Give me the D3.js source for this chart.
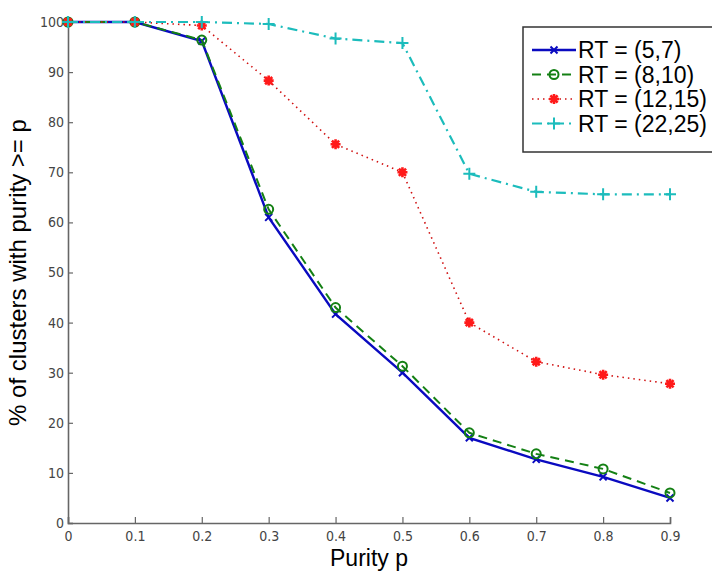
<!DOCTYPE html>
<html>
<head>
<meta charset="utf-8">
<script src="https://cdn.jsdelivr.net/npm/d3@7"></script>
<style>
  body { margin: 0; background: #fff; }
  svg { display: block; }
</style>
</head>
<body>
<div id="chart"></div>
<script>
// purity thresholds on the x axis
var purity = [0, 0.1, 0.2, 0.3, 0.4, 0.5, 0.6, 0.7, 0.8, 0.9];

// % of clusters with purity >= p, one array per RT window
var rt57   = [100, 100, 96.2, 61, 41.7, 30, 17, 12.7, 9.2, 5];
var rt810  = [100, 100, 96.4, 62.6, 43, 31.3, 18, 13.8, 10.8, 6];
var rt1215 = [100, 100, 99.3, 88.3, 75.6, 70, 40, 32.2, 29.6, 27.8];
var rt2225 = [100, 100, 100, 99.6, 96.7, 95.8, 69.7, 66.1, 65.6, 65.6];

var seriesNames = ["RT = (5,7)", "RT = (8,10)", "RT = (12,15)", "RT = (22,25)"];

var xTicks = [0, 0.1, 0.2, 0.3, 0.4, 0.5, 0.6, 0.7, 0.8, 0.9];
var yTicks = [0, 10, 20, 30, 40, 50, 60, 70, 80, 90, 100];

var width = 712, height = 571;
var margin = {left: 68, right: 42, top: 22, bottom: 48};

var svg = d3.select("#chart")
	.append("svg")
	.attr("width", width)
	.attr("height", height);

var x = d3.scaleLinear()
	.domain([0, 0.9])
	.range([margin.left, width - margin.right]);

var y = d3.scaleLinear()
	.domain([0, 100])
	.range([height - margin.bottom, margin.top]);

var tickFont = "'DejaVu Sans Condensed', 'Liberation Sans Narrow', 'Arial Narrow', sans-serif";
var labelFont = "'Liberation Sans', Arial, sans-serif";

// axes (ticks point inward, like matlab)
var xAxis = svg.append("g")
	.attr("transform", "translate(0," + y(0) + ")")
	.call(d3.axisBottom(x).tickValues(xTicks).tickSize(-6).tickPadding(5)
		.tickFormat(function(d) { return d === 0 ? "0" : d3.format(".1f")(d); }));

var yAxis = svg.append("g")
	.attr("transform", "translate(" + x(0) + ",0)")
	.call(d3.axisLeft(y).tickValues(yTicks).tickSize(-5).tickPadding(4));

[xAxis, yAxis].forEach(function(ax) {
	ax.select(".domain").attr("stroke", "#666").attr("stroke-width", 1.6);
	ax.selectAll(".tick line").attr("stroke", "#666").attr("stroke-width", 1.2);
	ax.selectAll(".tick text")
		.attr("fill", "#444")
		.style("font-family", tickFont)
		.style("font-stretch", "condensed")
		.style("font-size", "14px");
});
xAxis.selectAll(".tick text").attr("dy", "0.9em");

// axis titles
svg.append("text")
	.attr("x", (x(0) + x(0.9)) / 2)
	.attr("y", 566)
	.attr("text-anchor", "middle")
	.style("font-family", labelFont)
	.style("font-size", "23px")
	.text("Purity p");

svg.append("text")
	.attr("transform", "translate(26," + ((y(0) + y(100)) / 2) + ") rotate(-90)")
	.attr("text-anchor", "middle")
	.style("font-family", labelFont)
	.style("font-size", "24px")
	.text("% of clusters with purity >= p");

var series = [
	{name: seriesNames[0], values: rt57,   color: "#0a0ac0", dash: null,    width: 2.4, marker: "x"},
	{name: seriesNames[1], values: rt810,  color: "#148014", dash: "9,6",   width: 2,   marker: "o"},
	{name: seriesNames[2], values: rt1215, color: "#d01010", dash: "1.5,4", width: 1.6, marker: "*"},
	{name: seriesNames[3], values: rt2225, color: "#1cbcbc", dash: "10,5,2,5", width: 2.2, marker: "+"}
];

var line = d3.line()
	.x(function(d, i) { return x(purity[i]); })
	.y(function(d) { return y(d); });

function drawMarker(g, type, cx, cy, color) {
	if (type === "x") {
		g.append("path")
			.attr("d", "M" + (cx - 3.5) + "," + (cy - 3.5) + "L" + (cx + 3.5) + "," + (cy + 3.5) +
				"M" + (cx - 3.5) + "," + (cy + 3.5) + "L" + (cx + 3.5) + "," + (cy - 3.5))
			.attr("stroke", color).attr("stroke-width", 2).attr("fill", "none");
	} else if (type === "o") {
		g.append("circle")
			.attr("cx", cx).attr("cy", cy).attr("r", 4.5)
			.attr("stroke", color).attr("stroke-width", 2).attr("fill", "none");
	} else if (type === "*") {
		g.append("path")
			.attr("d", "M" + (cx - 5) + "," + cy + "L" + (cx + 5) + "," + cy +
				"M" + cx + "," + (cy - 5) + "L" + cx + "," + (cy + 5) +
				"M" + (cx - 3.6) + "," + (cy - 3.6) + "L" + (cx + 3.6) + "," + (cy + 3.6) +
				"M" + (cx - 3.6) + "," + (cy + 3.6) + "L" + (cx + 3.6) + "," + (cy - 3.6))
			.attr("stroke", "#ff1a1a").attr("stroke-width", 2.6).attr("fill", "none");
	} else if (type === "+") {
		g.append("path")
			.attr("d", "M" + (cx - 6) + "," + cy + "L" + (cx + 6) + "," + cy +
				"M" + cx + "," + (cy - 6) + "L" + cx + "," + (cy + 6))
			.attr("stroke", color).attr("stroke-width", 2).attr("fill", "none");
	}
}

series.forEach(function(s) {
	var g = svg.append("g");
	g.append("path")
		.datum(s.values)
		.attr("d", line)
		.attr("fill", "none")
		.attr("stroke", s.color)
		.attr("stroke-width", s.width)
		.attr("stroke-dasharray", s.dash);
	s.values.forEach(function(v, i) {
		drawMarker(g, s.marker, x(purity[i]), y(v), s.color);
	});
});

// legend box, runs off the right edge like the original
var lg = svg.append("g").attr("transform", "translate(523,27)");
lg.append("rect")
	.attr("x", 0).attr("y", 0)
	.attr("width", 200).attr("height", 125)
	.attr("fill", "#fff")
	.attr("stroke", "#333")
	.attr("stroke-width", 1.5);

series.forEach(function(s, i) {
	var cy = 23 + i * 24.5;
	lg.append("line")
		.attr("x1", 9).attr("x2", 53)
		.attr("y1", cy).attr("y2", cy)
		.attr("stroke", s.color)
		.attr("stroke-width", s.width)
		.attr("stroke-dasharray", s.dash);
	drawMarker(lg, s.marker, 31, cy, s.color);
	lg.append("text")
		.attr("x", 55)
		.attr("y", cy)
		.attr("dy", "0.36em")
		.style("font-family", labelFont)
		.style("font-size", "23px")
		.text(s.name);
});
</script>
</body>
</html>
